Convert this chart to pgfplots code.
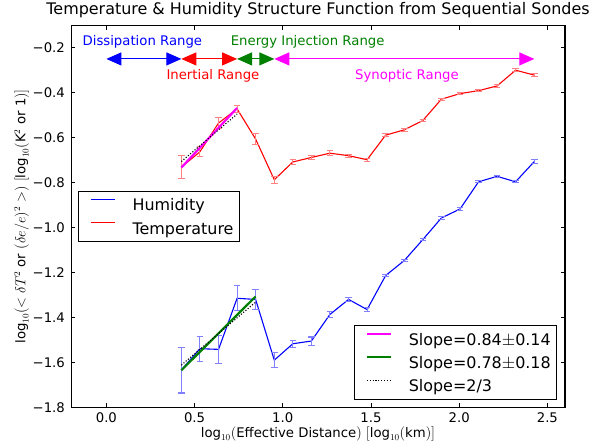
\documentclass[border=0pt]{standalone}
\usepackage{fontspec}
\setmainfont{DejaVu Sans}
\usepackage{pgfplots}
\usepackage{pgfplotstable}
\pgfplotsset{compat=1.18}
\usetikzlibrary{arrows.meta}
\definecolor{mplgreen}{RGB}{0,128,0}
\definecolor{mplmag}{RGB}{255,0,255}
\definecolor{mplblue}{RGB}{0,0,255}
\definecolor{mplred}{RGB}{255,0,0}
\definecolor{ebblue}{RGB}{128,128,255}
\definecolor{ebred}{RGB}{255,128,128}

\pgfplotstableread{
x T Te H He
0.425 -0.731 0.052 -1.633 0.102
0.530 -0.663 0.022 -1.538 0.056
0.636 -0.535 0.024 -1.541 0.062
0.741 -0.472 0.016 -1.314 0.056
0.846 -0.606 0.024 -1.319 0.043
0.952 -0.787 0.015 -1.589 0.033
1.057 -0.708 0.012 -1.516 0.016
1.162 -0.688 0.009 -1.504 0.018
1.267 -0.669 0.010 -1.386 0.013
1.373 -0.680 0.007 -1.319 0.010
1.478 -0.698 0.007 -1.364 0.008
1.583 -0.589 0.006 -1.213 0.006
1.689 -0.565 0.006 -1.146 0.006
1.794 -0.524 0.006 -1.053 0.005
1.899 -0.429 0.005 -0.957 0.005
2.005 -0.404 0.004 -0.917 0.005
2.110 -0.391 0.004 -0.796 0.004
2.215 -0.370 0.005 -0.772 0.004
2.320 -0.300 0.006 -0.796 0.004
2.426 -0.322 0.007 -0.706 0.008
}\data

\pgfplotsset{
  common/.style={
    scale only axis, width=494bp, height=382.5bp,
    xmin=-0.2, xmax=2.6, ymin=-1.8, ymax=-0.1,
    clip=false,
  },
  mylegend/.style={
    legend image code/.code={\path (-5.5bp,0bp); \draw[##1] (0bp,5.5bp) -- (24bp,5.5bp); \path (41bp,0bp);},
    legend cell align=left,
    legend style={draw=black, line width=1.1bp, fill=white, inner xsep=6bp, inner ysep=2bp,
      font=\fontsize{16}{19}\selectfont, row sep=0pt,
      nodes={inner sep=0pt, text height=17.6bp, text depth=5.7bp}},
  },
}

\begin{document}
\begin{tikzpicture}
\begin{axis}[common, name=main,
  axis line style={line width=1.1bp},
  tick align=inside, major tick length=4.4bp, tick style={black, line width=0.7bp},
  xtick={0,0.5,1,1.5,2,2.5}, xticklabels={0.0,0.5,1.0,1.5,2.0,2.5},
  ytick={-1.8,-1.6,-1.4,-1.2,-1.0,-0.8,-0.6,-0.4,-0.2},
  yticklabels={−1.8,−1.6,−1.4,−1.2,−1.0,−0.8,−0.6,−0.4,−0.2},
  ticklabel style={font=\fontsize{13.3}{16}\selectfont},
  xticklabel style={anchor=base, inner sep=0pt, yshift=-14.6bp},
  yticklabel style={anchor=east, inner sep=0pt, xshift=-6bp},
  title={Temperature \& Humidity Structure Function from Sequential Sondes},
  title style={font=\fontsize{16}{19}\selectfont, at={(axis description cs:0.5,1)}, anchor=base, yshift=4.3bp},
  xlabel={$\log_{10}($Effective Distance$)$ $[\log_{10}($km$)]$},
  xlabel style={font=\fontsize{13.3}{16}\selectfont, at={(axis description cs:0.5,0)}, anchor=base, inner sep=0pt, yshift=-29.4bp},
  ylabel={$\log_{10}(<\delta T^2$ or $(\delta e/e)^2>)$ $[\log_{10}($K$^2$ or 1$)]$},
  ylabel style={font=\fontsize{13.3}{16}\selectfont, at={(axis description cs:-0.1,0.5)}, inner sep=0pt, anchor=center},
  mylegend,
  legend style={at={(axis description cs:0.0148,0.5)}, anchor=west},
]
\addplot[mplblue, line width=1.1bp, mark=none, forget plot,
  error bars/.cd, y dir=both, y explicit,
  error bar style={ebblue, line width=1.1bp},
  error mark options={rotate=90, ebblue, mark size=3.3bp, line width=1.1bp}]
  table[x=x, y=H, y error=He] {\data};
\addplot[mplred, line width=1.1bp, mark=none, forget plot,
  error bars/.cd, y dir=both, y explicit,
  error bar style={ebred, line width=1.1bp},
  error mark options={rotate=90, ebred, mark size=3.3bp, line width=1.1bp}]
  table[x=x, y=T, y error=Te] {\data};
\addlegendimage{mplblue, line width=1.1bp}
\addlegendentry{Humidity}
\addlegendimage{mplred, line width=1.1bp}
\addlegendentry{Temperature}

\draw[mplblue, line width=1.1bp, {Triangle[length=15bp,width=13bp]}-{Triangle[length=15bp,width=13bp]}] (axis cs:0,-0.25) -- (axis cs:0.425,-0.25);
\draw[mplred, line width=1.1bp, {Triangle[length=15bp,width=13bp]}-{Triangle[length=15bp,width=13bp]}] (axis cs:0.425,-0.25) -- (axis cs:0.741,-0.25);
\draw[mplgreen, line width=1.1bp, {Triangle[length=15bp,width=13bp]}-{Triangle[length=15bp,width=13bp]}] (axis cs:0.741,-0.25) -- (axis cs:0.952,-0.25);
\draw[mplmag, line width=1.1bp, {Triangle[length=15bp,width=13bp]}-{Triangle[length=15bp,width=13bp]}] (axis cs:0.952,-0.25) -- (axis cs:2.426,-0.25);
\node[mplblue, anchor=base, inner sep=0pt, font=\fontsize{13.3}{16}\selectfont] at (axis cs:0.204,-0.192) {Dissipation Range};
\node[mplgreen, anchor=base, inner sep=0pt, font=\fontsize{13.3}{16}\selectfont] at (axis cs:1.141,-0.192) {Energy Injection Range};
\node[mplred, anchor=base, inner sep=0pt, font=\fontsize{13.3}{16}\selectfont] at (axis cs:0.604,-0.340) {Inertial Range};
\node[mplmag, anchor=base, inner sep=0pt, font=\fontsize{13.3}{16}\selectfont] at (axis cs:1.704,-0.340) {Synoptic Range};
\end{axis}

\begin{axis}[common, hide axis, mylegend,
  legend style={at={(axis description cs:0.9844,0.0201)}, anchor=south east}]
\addplot[mplmag, line width=2.2bp] coordinates {(0.425,-0.733) (0.741,-0.468)};
\addlegendentry{Slope=0.84$\pm$0.14}
\addplot[mplgreen, line width=2.2bp] coordinates {(0.425,-1.634) (0.846,-1.306)};
\addlegendentry{Slope=0.78$\pm$0.18}
\addplot[black, line width=1.1bp, dash pattern=on 1.1bp off 1.8bp] coordinates {(0.425,-0.706) (0.741,-0.495)};
\addlegendentry{Slope=2/3}
\addplot[black, line width=1.1bp, dash pattern=on 1.1bp off 1.8bp, forget plot] coordinates {(0.425,-1.611) (0.846,-1.331)};
\end{axis}

\pgfresetboundingbox
\path ([xshift=-71.1bp,yshift=-39.3bp]main.south west) rectangle ([xshift=29bp,yshift=25.2bp]main.north east);
\end{tikzpicture}
\end{document}
